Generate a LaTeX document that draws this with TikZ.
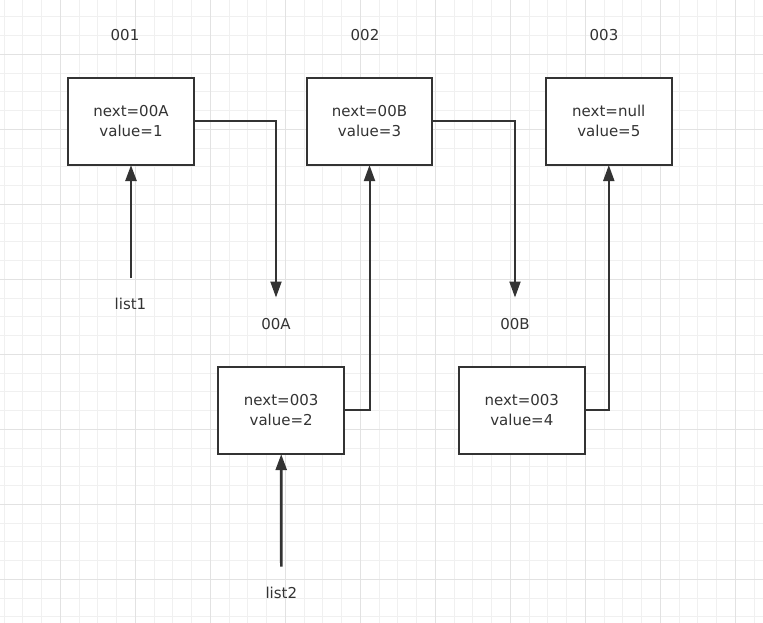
\documentclass[tikz,border=0pt]{standalone}
\usepackage{fontspec}
\setmainfont{DejaVu Sans}
\usetikzlibrary{arrows.meta}
\definecolor{ink}{HTML}{333333}
\definecolor{gridminor}{HTML}{F0F0F0}
\definecolor{gridmajor}{HTML}{E2E2E2}
\tikzset{
  cell/.style={draw=ink, line width=2pt, fill=white, minimum width=125.5pt, minimum height=87.5pt,
    inner sep=0pt, outer sep=0pt, align=center, text=ink, font=\fontsize{15}{20}\selectfont},
  lbl/.style={text=ink, inner sep=0pt, font=\fontsize{15}{18}\selectfont},
  link/.style={draw=ink, line width=2pt, -{Triangle[length=16pt,width=11pt]}},
  ptr/.style={draw=ink, line width=2.6pt, -{Triangle[length=16pt,width=11pt]}}
}
\begin{document}
\begin{tikzpicture}[x=1pt,y=-1pt]
\useasboundingbox (0,0) rectangle (763,623);
\fill[white] (0,0) rectangle (763,623);
\begin{scope}
\clip (0,0) rectangle (763,623);
\foreach \i in {0,...,40} \draw[gridminor, line width=1pt] ({4.05+18.75*\i},0) -- ({4.05+18.75*\i},623);
\foreach \j in {0,...,33} \draw[gridminor, line width=1pt] (0,{16.8+18.75*\j}) -- (763,{16.8+18.75*\j});
\foreach \i in {0,...,9} \draw[gridmajor, line width=1pt] ({60.3+75*\i},0) -- ({60.3+75*\i},623);
\foreach \j in {0,...,7} \draw[gridmajor, line width=1pt] (0,{54.3+75*\j}) -- (763,{54.3+75*\j});
\end{scope}

% address labels
\node[lbl] (a1) at (125,35.5) {001};
\node[lbl] (a2) at (365,35.5) {002};
\node[lbl] (a3) at (604,35.5) {003};

% boxes
\node[cell] (b1) at (131,121.3) {next=00A\\value=1};
\node[cell] (b2) at (369.5,121.3) {next=00B\\value=3};
\node[cell] (b3) at (608.8,121.3) {next=null\\value=5};
\node[cell] (b4) at (281.2,410.4) {next=003\\value=2};
\node[cell] (b5) at (521.8,410.4) {next=003\\value=4};

% other labels
\node[lbl] (l1) at (130.5,303.5) {list1};
\node[lbl] (l2) at (281.3,592.5) {list2};
\node[lbl] (oA) at (276,324.5) {00A};
\node[lbl] (oB) at (515,324.5) {00B};

% free ends
\coordinate (s1) at (131,277.5);
\coordinate (s2) at (281.3,566.7);
\coordinate (tA) at (276,297.5);
\coordinate (tB) at (515,297.5);

% connectors
\draw[ptr] (s1) -- (b1.south);
\draw[ptr] (s2) -- (b4.south);
\draw[link] (b1.east) -| (tA);
\draw[link] (b2.east) -| (tB);
\draw[link] (b4.east) -| (b2.south);
\draw[link] (b5.east) -| (b3.south);
\end{tikzpicture}
\end{document}
